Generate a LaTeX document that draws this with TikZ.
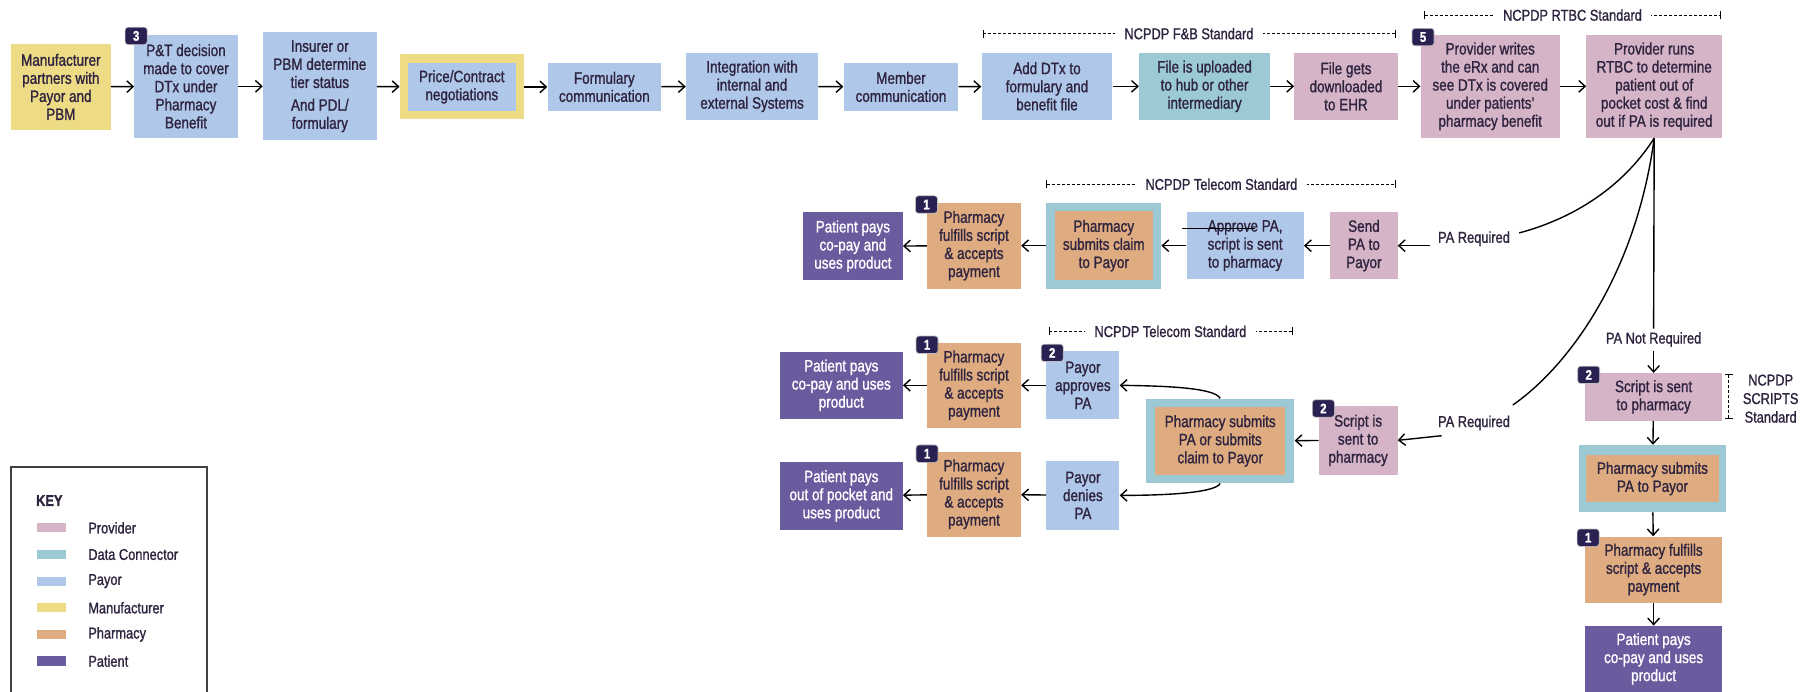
\documentclass[tikz,border=0pt]{standalone}
\usepackage{fontspec}
\setmainfont{Liberation Sans}[FakeStretch=0.82,FakeBold=1.2]
\usetikzlibrary{arrows.meta}
\definecolor{cprov}{HTML}{D4B4C6}
\definecolor{cdata}{HTML}{9BC9D4}
\definecolor{cpay}{HTML}{AFC7E9}
\definecolor{cmanu}{HTML}{EDDB85}
\definecolor{cphar}{HTML}{DEAC80}
\definecolor{cpat}{HTML}{6A5A9E}
\definecolor{cbadge}{HTML}{2A2152}
\definecolor{ctext}{HTML}{2F2440}
\tikzset{
 bx/.style={inner sep=0pt, align=center, text=ctext, font=\fontsize{14.2}{15.6}\selectfont},
 prov/.style={bx, fill=cprov},
 dcon/.style={bx, fill=cdata},
 pay/.style={bx, fill=cpay},
 manf/.style={bx, fill=cmanu},
 phar/.style={bx, fill=cphar},
 pat/.style={bx, fill=cpat, text=white},
 sz/.style 2 args={minimum width=#1pt, minimum height=#2pt},
 badge/.style={fill=cbadge, draw=black!25, line width=0.6pt, rounded corners=2.5pt, minimum width=19pt, minimum height=15pt, inner sep=0pt, text=white, font=\fontsize{12}{12}\selectfont\bfseries},
 arr/.style={-{Straight Barb[length=5.5pt,width=10pt]}, line width=1.2pt, draw=black},
 conn/.style={line width=1.2pt, draw=black},
 lab/.style={font=\fontsize{13.5}{16}\selectfont, text=ctext, inner sep=1pt, align=center},
 brk/.style={line width=0.9pt, dash pattern=on 2.5pt off 1.8pt, {Bar[width=7pt,line width=0.9pt]}-{Bar[width=7pt,line width=0.9pt]}},
 brlab/.style={lab, fill=white, inner xsep=8pt, inner ysep=1pt},
 keyt/.style={anchor=west, font=\fontsize{13.5}{14}\selectfont, text=ctext, inner sep=0pt},
 keys/.style={minimum width=25pt, minimum height=8pt, inner sep=0pt},
}
\begin{document}
\begin{tikzpicture}[x=1pt,y=-1pt]
\fill[white] (0,0) rectangle (1568,597);
\useasboundingbox (0,0) rectangle (1568,597);

% ---------- top row ----------
\node[manf, sz={86}{74}] (manu) at (52.5,75) {Manufacturer\\partners with\\Payor and\\PBM};
\node[pay, sz={89}{89}] (pt) at (160.5,74.5) {P\&T decision\\made to cover\\DTx under\\Pharmacy\\Benefit};
\node[pay, sz={98}{93}] (ins) at (276,74.5) {Insurer or\\PBM determine\\tier status\\[4pt]And PDL/\\formulary};
\node[manf, sz={107}{56}] (price) at (398.5,75) {};
\node[pay, sz={93}{42}] (pricein) at (398.5,75) {Price/Contract\\negotiations};
\node[pay, sz={98}{42}] (form) at (521.5,75) {Formulary\\communication};
\node[pay, sz={114}{58}] (integ) at (649,74.5) {Integration with\\internal and\\external Systems};
\node[pay, sz={99}{42}] (memb) at (777.5,75) {Member\\communication};
\node[pay, sz={113}{58}] (add) at (903.5,74.5) {Add DTx to\\formulary and\\benefit file};
\node[dcon, sz={113}{58}] (upl) at (1039.5,74.5) {File is uploaded\\to hub or other\\intermediary};
\node[prov, sz={89}{58}] (dnl) at (1161.5,74.5) {File gets\\downloaded\\to EHR};
\node[prov, sz={120}{89}] (provw) at (1286,74.5) {Provider writes\\the eRx and can\\see DTx is covered\\under patients'\\pharmacy benefit};
\node[prov, sz={117}{89}] (provr) at (1427.5,74.5) {Provider runs\\RTBC to determine\\patient out of\\pocket cost \& find\\out if PA is required};
\node[badge] (b3) at (117.5,31) {3};
\node[badge] (b5) at (1228,32) {5};

\draw[arr] (manu) -- (pt);
\draw[arr] (pt) -- (ins);
\draw[arr] (ins) -- (price);
\draw[arr] (price) -- (form);
\draw[arr] (form) -- (integ);
\draw[arr] (integ) -- (memb);
\draw[arr] (memb) -- (add);
\draw[arr] (add) -- (upl);
\draw[arr] (upl) -- (dnl);
\draw[arr] (dnl) -- (provw);
\draw[arr] (provw) -- (provr);

% brackets top
\coordinate (fbL) at (848,29); \coordinate (fbR) at (1205,29);
\draw[brk] (fbL) -- (fbR);
\node[brlab] (fbT) at (1026,29) {NCPDP F\&B Standard};
\coordinate (rtL) at (1229,13); \coordinate (rtR) at (1485,13);
\draw[brk] (rtL) -- (rtR);
\node[brlab] (rtT) at (1357,13) {NCPDP RTBC Standard};

% ---------- row 2 ----------
\node[pat, sz={86}{59}] (pat1) at (736,212.5) {Patient pays\\co-pay and\\uses product};
\node[phar, sz={81}{74}] (ful1) at (840.5,212) {Pharmacy\\fulfills script\\\& accepts\\payment};
\node[dcon, sz={99}{74}] (subc) at (952.5,212) {};
\node[phar, sz={85}{59}] (subcin) at (952.5,212) {Pharmacy\\submits claim\\to Payor};
\node[pay, sz={101}{58}] (appv) at (1074.5,212) {Approve PA,\\script is sent\\to pharmacy};
\node[prov, sz={58}{58}] (send) at (1177,212) {Send\\PA to\\Payor};
\node[badge] (b1a) at (799.5,176.5) {1};
\node[lab] (pa1) at (1272,206) {PA Required};

\draw[arr, shorten <=6pt] (pa1.west |- send.east) -- (send.east);
\draw[arr] (send) -- (appv);
\draw[arr] (appv) -- (subc);
\draw[arr] (subc) -- (ful1);
\draw[arr] (ful1) -- (pat1);
\draw[line width=1pt] ([xshift=-4pt,yshift=15pt]appv.west) -- ([xshift=59pt,yshift=15pt]appv.west);

\coordinate (t1L) at (903,159); \coordinate (t1R) at (1205,159);
\draw[brk] (t1L) -- (t1R);
\node[brlab] (t1T) at (1054,159) {NCPDP Telecom Standard};

% ---------- row 3 ----------
\node[pat, sz={106}{58}] (pat2) at (726,332.5) {Patient pays\\co-pay and uses\\product};
\node[phar, sz={81}{73}] (ful2) at (840.5,332.5) {Pharmacy\\fulfills script\\\& accepts\\payment};
\node[pay, sz={63}{59}] (aprv) at (934.5,332.5) {Payor\\approves\\PA};
\node[dcon, sz={128}{73}] (subp) at (1053,380.5) {};
\node[phar, sz={112}{58}] (subpin) at (1053,380.5) {Pharmacy submits\\PA or submits\\claim to Payor};
\node[prov, sz={68}{60}] (scr1) at (1172,380) {Script is\\sent to\\pharmacy};
\node[pat, sz={106}{58}] (pat3) at (726,428) {Patient pays\\out of pocket and\\uses product};
\node[phar, sz={81}{73}] (ful3) at (840.5,426.5) {Pharmacy\\fulfills script\\\& accepts\\payment};
\node[pay, sz={63}{59}] (deny) at (934.5,427.5) {Payor\\denies\\PA};
\node[badge] (b1b) at (800,297.5) {1};
\node[badge] (b2a) at (908,304.5) {2};
\node[badge] (b2b) at (1142,352.5) {2};
\node[badge] (b1c) at (800,391.5) {1};
\node[lab] (pa2) at (1272,365) {PA Required};
\coordinate (a2s) at (1244,376);

\draw[arr] (a2s) -- (scr1.east);
\draw[arr] (scr1) -- (subp);
\draw[arr] (subp.north) .. controls (1048,334) and (1000,333) .. (aprv.east);
\draw[arr] (subp.south) .. controls (1048,426) and (1000,427.5) .. (deny.east);
\draw[arr] (aprv) -- (ful2);
\draw[arr] (ful2) -- (pat2);
\draw[arr] (deny) -- (ful3);
\draw[arr] (ful3) -- (pat3);

\coordinate (t2L) at (905,286); \coordinate (t2R) at (1116,286);
\draw[brk] (t2L) -- (t2R);
\node[brlab] (t2T) at (1010,286) {NCPDP Telecom Standard};

% ---------- right column ----------
\node[lab, inner sep=3pt] (panr) at (1427,293) {PA Not Required};
\node[prov, sz={118}{41}] (scr2) at (1427,342.5) {Script is sent\\to pharmacy};
\node[dcon, sz={127}{58}] (subq) at (1426,413) {};
\node[phar, sz={114}{41}] (subqin) at (1426,413) {Pharmacy submits\\PA to Payor};
\node[phar, sz={118}{57}] (ful4) at (1427,491.5) {Pharmacy fulfills\\script \& accepts\\payment};
\node[pat, sz={118}{57}] (pat4) at (1427,568.5) {Patient pays\\co-pay and uses\\product};
\node[badge] (b2c) at (1371,323.5) {2};
\node[badge] (b1d) at (1370.5,464) {1};

\coordinate (c1e) at (1311,201);
\coordinate (c2e) at (1305.5,349.5);
\draw[conn] (provr.south) .. controls (1395,170) and (1345,192) .. (c1e);
\draw[conn] (provr.south) .. controls (1412,235) and (1355,315) .. (c2e);
\draw[conn] (provr.south) -- (panr.north);
\draw[arr] (panr.south) -- (scr2.north);
\draw[arr] (scr2) -- (subq);
\draw[arr] (subq) -- (ful4);
\draw[arr] (ful4) -- (pat4);

\coordinate (scT) at (1492,323); \coordinate (scB) at (1492,362);
\draw[brk] (scT) -- (scB);
\node[lab] (scL) at (1528,344) {NCPDP\\SCRIPTS\\Standard};

% ---------- key ----------
\draw[line width=1.2pt, draw=black!75] (9.5,598) -- (9.5,403) -- (178.5,403) -- (178.5,598);
\node[keyt, font=\fontsize{13.5}{14}\selectfont\bfseries] (keyh) at (31,432) {KEY};
\node[keys, fill=cprov] (ks1) at (44.5,455.5) {};
\node[keyt] (kt1) at (76,455.5) {Provider};
\node[keys, fill=cdata] (ks2) at (44.5,478.5) {};
\node[keyt] (kt2) at (76,478.5) {Data Connector};
\node[keys, fill=cpay] (ks3) at (44.5,501.5) {};
\node[keyt] (kt3) at (76,501.5) {Payor};
\node[keys, fill=cmanu] (ks4) at (44.5,524.5) {};
\node[keyt] (kt4) at (76,524.5) {Manufacturer};
\node[keys, fill=cphar] (ks5) at (44.5,547.5) {};
\node[keyt] (kt5) at (76,547.5) {Pharmacy};
\node[keys, fill=cpat] (ks6) at (44.5,570.5) {};
\node[keyt] (kt6) at (76,570.5) {Patient};
\end{tikzpicture}
\end{document}
